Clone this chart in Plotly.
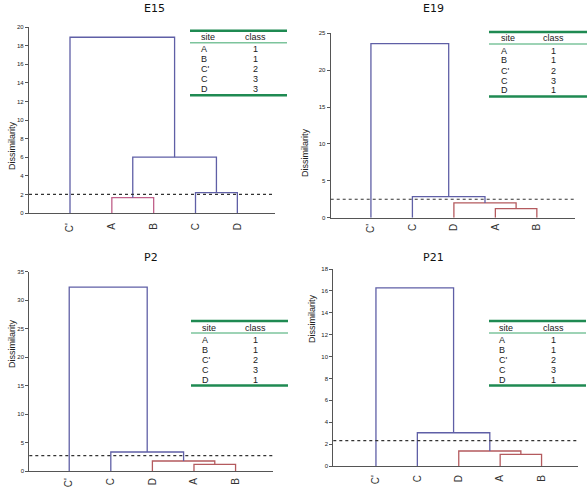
import plotly.graph_objects as go

W, H = 588, 489

# ---------------- data ----------------
titles = ["E15", "E19", "P2", "P21"]

leaves_E15 = ["C'", "A", "B", "C", "D"]
merges_E15 = [("A", "B", 1.65), ("C", "D", 2.2), ("A+B", "C+D", 6.0), ("C'", "A+B+C+D", 18.9)]
thr_E15 = 2.0

leaves_E19 = ["C'", "C", "D", "A", "B"]
merges_E19 = [("A", "B", 1.22), ("D", "A+B", 2.0), ("C", "D+A+B", 2.85), ("C'", "C+D+A+B", 23.6)]
thr_E19 = 2.5

leaves_P2 = ["C'", "C", "D", "A", "B"]
merges_P2 = [("A", "B", 1.17), ("D", "A+B", 1.76), ("C", "D+A+B", 3.34), ("C'", "C+D+A+B", 32.3)]
thr_P2 = 2.69

leaves_P21 = ["C'", "C", "D", "A", "B"]
merges_P21 = [("A", "B", 1.07), ("D", "A+B", 1.37), ("C", "D+A+B", 3.04), ("C'", "C+D+A+B", 16.27)]
thr_P21 = 2.31

table_sites = ["A", "B", "C'", "C", "D"]
class_E15 = [1, 1, 2, 3, 3]
class_E19 = [1, 1, 2, 3, 1]
class_P2 = [1, 1, 2, 3, 1]
class_P21 = [1, 1, 2, 3, 1]

y_max = [20, 25, 35, 18]
y_dtick = [2, 5, 5, 2]

# ---------------- styling / layout ----------------
BLUE = "#5f5fa6"
RED = "#b45a5e"
PINK = "#c0608a"
GREEN = "#1f8a52"
LGREEN = "#7cc49c"
AXC = "#555555"

link_colors = [
    [PINK, BLUE, BLUE, BLUE],
    [RED, RED, BLUE, BLUE],
    [RED, RED, BLUE, BLUE],
    [RED, RED, BLUE, BLUE],
]

# panel pixel boxes: (x_left, x_right, y_bottom, y_top)
boxes = [(29, 275, 213, 27), (330.7, 575, 217.7, 33.3), (29.3, 273, 471, 271.7), (333.3, 578, 466, 269)]
xranges = [[0.02, 5.9], [0.03, 5.92], [0.04, 5.9], [-0.03, 5.88]]
xlab_standoff = [5, 1, 2, 4]
title_pos = [(142, 8), (445.7, 8), (142, 257), (445.7, 257)]
ylab_pos = [(5, 120), (305, 127), (5, 370), (312, 345)]
# table boxes: x0, x1, y_top, site-left x, class-center x
tables = [(190, 287, 30.7, 199, 255), (489, 587, 32, 499, 553),
          (191, 288, 321, 200, 255), (489, 586, 321, 497, 553)]

panels = [
    (leaves_E15, merges_E15, thr_E15, class_E15),
    (leaves_E19, merges_E19, thr_E19, class_E19),
    (leaves_P2, merges_P2, thr_P2, class_P2),
    (leaves_P21, merges_P21, thr_P21, class_P21),
]


def px(x):
    return x / W


def py(y):
    return 1 - y / H


fig = go.Figure()
annotations = []
shapes = []
TXT = dict(family="Liberation Sans", size=9, color="#222222")

for i, (leaves, merges, thr, classes) in enumerate(panels):
    n = i + 1
    xa = "x" if n == 1 else f"x{n}"
    ya = "y" if n == 1 else f"y{n}"
    pos = {lf: k + 1 for k, lf in enumerate(leaves)}
    hgt = {lf: 0.0 for lf in leaves}
    for j, (a, b, h) in enumerate(merges):
        xs = [pos[a], pos[a], pos[b], pos[b]]
        ys = [hgt[a], h, h, hgt[b]]
        fig.add_trace(go.Scatter(x=xs, y=ys, mode="lines", xaxis=xa, yaxis=ya,
                                 line=dict(color=link_colors[i][j], width=1.3),
                                 showlegend=False, hoverinfo="skip"))
        name = a + "+" + b
        pos[name] = (pos[a] + pos[b]) / 2
        hgt[name] = h
    # threshold
    shapes.append(dict(type="line", xref=f"{xa} domain", yref=ya, x0=0, x1=1, y0=thr, y1=thr,
                       line=dict(color="#333333", width=1.2, dash="dot")))

    xl, xr, yb, yt = boxes[i]
    axk = "xaxis" if n == 1 else f"xaxis{n}"
    ayk = "yaxis" if n == 1 else f"yaxis{n}"
    fig.layout[axk] = dict(domain=[px(xl), px(xr)], anchor=ya, range=xranges[i], automargin=False,
                           showgrid=False, zeroline=False, showline=True, linecolor=AXC, linewidth=1.2,
                           tickmode="array", tickvals=list(range(1, len(leaves) + 1)), ticktext=leaves,
                           tickangle=-90, ticks="", ticklabelstandoff=xlab_standoff[i],
                           tickfont=dict(family="Liberation Sans", size=10, color="#333333"))
    fig.layout[ayk] = dict(domain=[py(yb), py(yt)], anchor=xa, range=[0, y_max[i]], dtick=y_dtick[i],
                           automargin=False,
                           showgrid=False, zeroline=False, showline=True, linecolor=AXC, linewidth=1.2,
                           ticks="outside", ticklen=3, tickcolor=AXC,
                           tickfont=dict(family="Liberation Sans", size=6, color="#222222"))

    tx, ty = title_pos[i]
    annotations.append(dict(text=titles[i], x=px(tx), y=py(ty), xref="paper", yref="paper",
                            yanchor="middle", showarrow=False,
                            font=dict(family="DejaVu Sans", size=11, color="#111111")))
    lx, ly = ylab_pos[i]
    annotations.append(dict(text="Dissimilarity", x=px(lx), y=py(ly), xref="paper", yref="paper",
                            showarrow=False, textangle=-90, font=TXT))

    # table
    x0, x1, ytop, sx, cx = tables[i]
    shapes.append(dict(type="line", xref="paper", yref="paper", x0=px(x0), x1=px(x1), y0=py(ytop), y1=py(ytop),
                       line=dict(color=GREEN, width=2.5)))
    shapes.append(dict(type="line", xref="paper", yref="paper", x0=px(x0), x1=px(x1), y0=py(ytop + 12), y1=py(ytop + 12),
                       line=dict(color=LGREEN, width=1.5)))
    annotations.append(dict(text="site", x=px(sx), y=py(ytop + 6.5), xref="paper", yref="paper", xanchor="left",
                            yanchor="middle", showarrow=False, font=TXT))
    annotations.append(dict(text="class", x=px(cx), y=py(ytop + 6.5), xref="paper", yref="paper", xanchor="center",
                            yanchor="middle", showarrow=False, font=TXT))
    for r, (s, c) in enumerate(zip(table_sites, classes)):
        yy = ytop + 18.5 + 10 * r
        annotations.append(dict(text=s, x=px(sx), y=py(yy), xref="paper", yref="paper", xanchor="left",
                                yanchor="middle", showarrow=False, font=TXT))
        annotations.append(dict(text=str(c), x=px(cx), y=py(yy), xref="paper", yref="paper", xanchor="center",
                                yanchor="middle", showarrow=False, font=TXT))
    yb2 = ytop + 18.5 + 10 * 4 + 6
    shapes.append(dict(type="line", xref="paper", yref="paper", x0=px(x0), x1=px(x1), y0=py(yb2), y1=py(yb2),
                       line=dict(color=GREEN, width=2.5)))

fig.update_layout(width=W, height=H, margin=dict(l=0, r=0, t=0, b=0, autoexpand=False),
                  paper_bgcolor="white", plot_bgcolor="white",
                  annotations=annotations, shapes=shapes, showlegend=False)

fig.write_html("out.html", config={"displayModeBar": False},
               post_script="document.body.style.margin='0';document.body.style.overflow='hidden';")
